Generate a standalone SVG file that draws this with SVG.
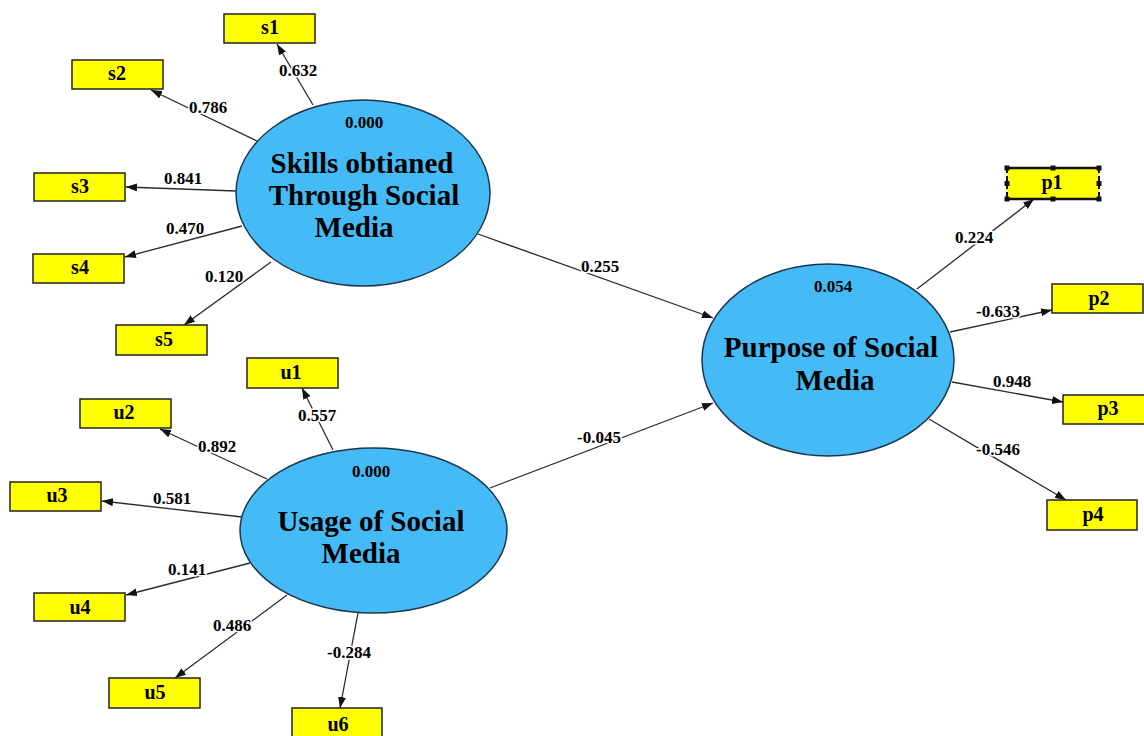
<svg xmlns="http://www.w3.org/2000/svg" width="1144" height="736" viewBox="0 0 1144 736">
<style>
.lv{fill:#44BBF6;stroke:#1d3550;stroke-width:1.5}
.ind{fill:#FFFF00;stroke:#222;stroke-width:1.5}
.t{font-family:"Liberation Serif","Times New Roman",serif;font-weight:bold;fill:#000;text-anchor:middle}
.big{font-size:29px}
.box{font-size:20px}
.num{font-size:17px}
.lbl{font-family:"Liberation Serif","Times New Roman",serif;font-weight:bold;font-size:17px;fill:#000;text-anchor:middle;stroke:#fff;stroke-width:3;paint-order:stroke;stroke-linejoin:round}
.c{stroke:#2b2b2b;stroke-width:1.3;fill:none;marker-end:url(#ah)}
</style>
<defs>
<marker id="ah" markerUnits="userSpaceOnUse" markerWidth="11" markerHeight="8" refX="11" refY="4" orient="auto">
<path d="M0,0 L11,4 L0,8 z" fill="#111"/>
</marker>
</defs>
<rect width="1144" height="736" fill="#fff"/>

<g id="connectors">
<line class="c" x1="313" y1="105" x2="277" y2="44"/>
<line class="c" x1="257" y1="141" x2="151" y2="90"/>
<line class="c" x1="236" y1="191" x2="126" y2="187"/>
<line class="c" x1="242" y1="226" x2="125" y2="257"/>
<line class="c" x1="271" y1="262" x2="184" y2="325"/>
<line class="c" x1="333" y1="450" x2="302" y2="388"/>
<line class="c" x1="267" y1="479" x2="160" y2="429"/>
<line class="c" x1="242" y1="517" x2="102" y2="501"/>
<line class="c" x1="250" y1="563" x2="126" y2="595"/>
<line class="c" x1="287" y1="595" x2="175" y2="678"/>
<line class="c" x1="358" y1="613" x2="340" y2="708"/>
<line class="c" x1="478" y1="234" x2="713" y2="318"/>
<line class="c" x1="490" y1="488" x2="713" y2="403"/>
<line class="c" x1="917" y1="289" x2="1034" y2="199"/>
<line class="c" x1="950" y1="332" x2="1052" y2="310"/>
<line class="c" x1="952" y1="382" x2="1063" y2="402"/>
<line class="c" x1="929" y1="419" x2="1066" y2="500"/>
<text class="lbl" x="298" y="76">0.632</text>
<text class="lbl" x="208" y="113">0.786</text>
<text class="lbl" x="183" y="184">0.841</text>
<text class="lbl" x="185" y="234">0.470</text>
<text class="lbl" x="224" y="282">0.120</text>
<text class="lbl" x="317" y="421">0.557</text>
<text class="lbl" x="217" y="452">0.892</text>
<text class="lbl" x="172" y="504">0.581</text>
<text class="lbl" x="187" y="575">0.141</text>
<text class="lbl" x="232" y="631">0.486</text>
<text class="lbl" x="349" y="658">-0.284</text>
<text class="lbl" x="600" y="272">0.255</text>
<text class="lbl" x="599" y="443">-0.045</text>
<text class="lbl" x="974" y="243">0.224</text>
<text class="lbl" x="998" y="317">-0.633</text>
<text class="lbl" x="1012" y="387">0.948</text>
<text class="lbl" x="998" y="455">-0.546</text>
</g>

<g id="skills">
<ellipse class="lv" cx="363" cy="193" rx="127" ry="93"/>
<text class="t num" x="364" y="128">0.000</text>
<text class="t big" x="362" y="173">Skills obtianed</text>
<text class="t big" x="364" y="205">Through Social</text>
<text class="t big" x="354" y="237">Media</text>
</g>
<g id="usage">
<ellipse class="lv" cx="373.5" cy="530.5" rx="133.5" ry="82.5"/>
<text class="t num" x="371" y="477">0.000</text>
<text class="t big" x="371" y="531">Usage of Social</text>
<text class="t big" x="361" y="563">Media</text>
</g>
<g id="purpose">
<ellipse class="lv" cx="828" cy="360" rx="126" ry="96"/>
<text class="t num" x="833" y="292">0.054</text>
<text class="t big" x="831" y="357">Purpose of Social</text>
<text class="t big" x="835" y="390">Media</text>
</g>

<g id="s1"><rect class="ind" x="224" y="14" width="91" height="29"/><text class="t box" x="270" y="34">s1</text></g>
<g id="s2"><rect class="ind" x="72" y="60" width="91" height="29"/><text class="t box" x="117" y="80">s2</text></g>
<g id="s3"><rect class="ind" x="34" y="173" width="91" height="28"/><text class="t box" x="80" y="193">s3</text></g>
<g id="s4"><rect class="ind" x="33" y="254" width="91" height="29"/><text class="t box" x="80" y="274">s4</text></g>
<g id="s5"><rect class="ind" x="116" y="325" width="91" height="30"/><text class="t box" x="164" y="346">s5</text></g>

<g id="u1"><rect class="ind" x="247" y="358" width="91" height="30"/><text class="t box" x="291" y="379">u1</text></g>
<g id="u2"><rect class="ind" x="80" y="399" width="91" height="29"/><text class="t box" x="124" y="419">u2</text></g>
<g id="u3"><rect class="ind" x="10" y="482" width="91" height="29"/><text class="t box" x="57" y="502">u3</text></g>
<g id="u4"><rect class="ind" x="34" y="593" width="91" height="28"/><text class="t box" x="80" y="614">u4</text></g>
<g id="u5"><rect class="ind" x="109" y="678" width="91" height="30"/><text class="t box" x="155" y="699">u5</text></g>
<g id="u6"><rect class="ind" x="292" y="708" width="90" height="30"/><text class="t box" x="338" y="731">u6</text></g>

<g id="p1">
<rect x="1007" y="168" width="92" height="31" fill="#FFFF00"/>
<line x1="1007" y1="168" x2="1099" y2="168" stroke="#111" stroke-width="2.5"/>
<line x1="1007" y1="199" x2="1099" y2="199" stroke="#111" stroke-width="2.5"/>
<line x1="1007" y1="168" x2="1007" y2="199" stroke="#111" stroke-width="2" stroke-dasharray="5,3"/>
<line x1="1099" y1="168" x2="1099" y2="199" stroke="#111" stroke-width="2" stroke-dasharray="5,3"/>
<g fill="#111">
<rect x="1004.5" y="165.5" width="5" height="5"/><rect x="1050.5" y="165.5" width="5" height="5"/><rect x="1096.5" y="165.5" width="5" height="5"/>
<rect x="1004.5" y="181" width="5" height="5"/><rect x="1096.5" y="181" width="5" height="5"/>
<rect x="1004.5" y="196.5" width="5" height="5"/><rect x="1050.5" y="196.5" width="5" height="5"/><rect x="1096.5" y="196.5" width="5" height="5"/>
</g>
<text class="t box" x="1052" y="189">p1</text>
</g>
<g id="p2"><rect class="ind" x="1052" y="284" width="91" height="29"/><text class="t box" x="1099" y="305">p2</text></g>
<g id="p3"><rect class="ind" x="1063" y="395" width="92" height="29"/><text class="t box" x="1108" y="415">p3</text></g>
<g id="p4"><rect class="ind" x="1047" y="500" width="90" height="30"/><text class="t box" x="1093" y="521">p4</text></g>
</svg>
